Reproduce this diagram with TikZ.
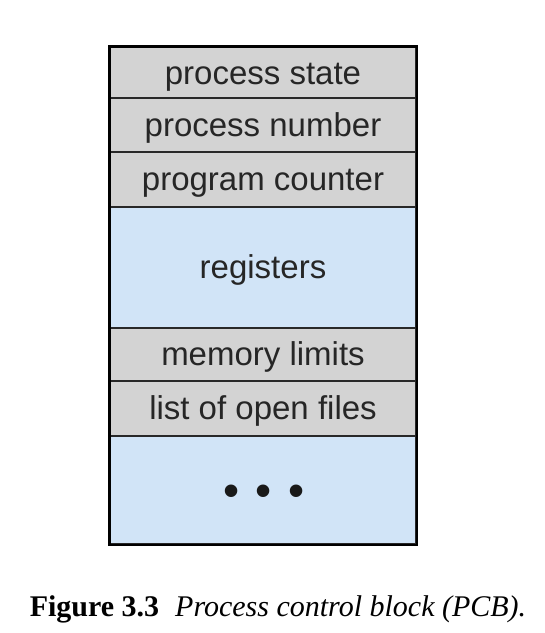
\documentclass[tikz,border=0pt]{standalone}
\usepackage{fontspec}
\setmainfont{Liberation Serif}
\newfontfamily\fieldfont{Liberation Sans}
\usepackage{xcolor}
\usepackage{tikz}

\definecolor{pcbgray}{RGB}{211,211,211}
\definecolor{pcbblue}{RGB}{209,228,247}
\definecolor{pcbline}{RGB}{40,40,40}

\tikzset{
	field/.style={draw=pcbline, line width=1.6pt, minimum width=306pt,
		inner sep=0pt, text height=29pt, text depth=7pt,
		font=\fieldfont\fontsize{33}{38}\selectfont, text=black!85},
}

\begin{document}
\begin{tikzpicture}[x=1pt,y=-1pt]
	\useasboundingbox (0,0) rectangle (545,633);
	\node[field, fill=pcbgray, minimum height=52pt] at (263,73) (state) {process state};
	\node[field, fill=pcbgray, minimum height=54pt] at (263,125) (number) {process number};
	\node[field, fill=pcbgray, minimum height=55pt] at (263,179.5) (counter) {program counter};
	\node[field, fill=pcbblue, minimum height=121pt] at (263,267.5) (regs) {registers};
	\node[field, fill=pcbgray, minimum height=53pt] at (263,354.5) (limits) {memory limits};
	\node[field, fill=pcbgray, minimum height=55pt] at (263,408.5) (files) {list of open files};
	\node[field, fill=pcbblue, minimum height=108pt] at (263,490) (more) {};
	\node[font=\fieldfont\fontsize{46}{50}\selectfont, text=black!90] at (264,496) (dots) {\textbullet\hspace{16pt}\textbullet\hspace{16pt}\textbullet};
	\draw[line width=2.6pt] (state.north west) rectangle (more.south east);
	\node at (278,609) (caption) {\fontsize{30}{34}\selectfont\textbf{Figure 3.3}\hspace{16pt}\textit{Process control block (PCB).}};
\end{tikzpicture}
\end{document}
